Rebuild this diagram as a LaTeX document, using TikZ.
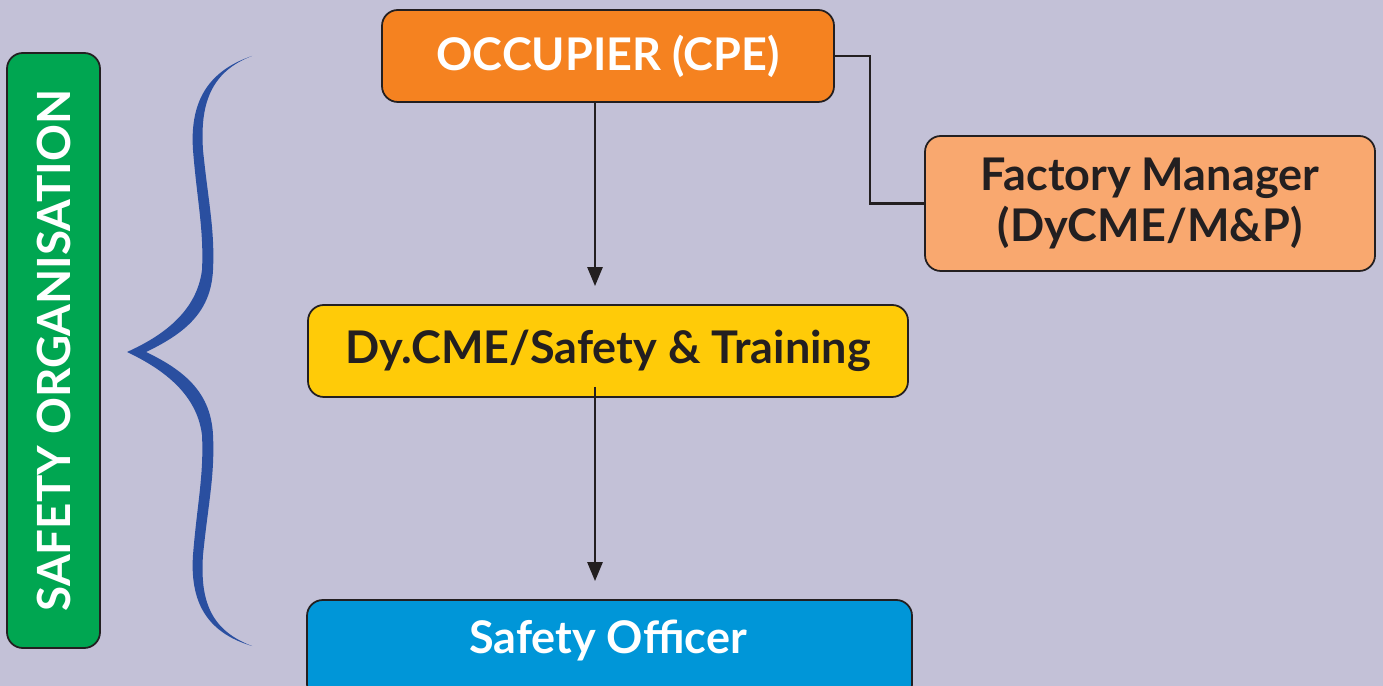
\documentclass[tikz,border=0pt]{standalone}
\usepackage{fontspec}
\setmainfont{Lato}
\usetikzlibrary{arrows.meta}
\definecolor{bgcol}{RGB}{195,193,215}
\definecolor{greencol}{RGB}{0,166,81}
\definecolor{occcol}{RGB}{245,130,32}
\definecolor{mgrcol}{RGB}{249,168,111}
\definecolor{yelcol}{RGB}{255,203,8}
\definecolor{bluecol}{RGB}{0,150,216}
\definecolor{bracecol}{RGB}{42,79,160}
\definecolor{inkcol}{RGB}{35,31,32}
\begin{document}
\begin{tikzpicture}[x=0.01cm,y=-0.01cm,
    box/.style={draw=inkcol, line width=0.5pt, rounded corners=4.5pt, inner sep=0pt, align=center,
      font=\bfseries\fontsize{12.8}{14.5}\selectfont},
    arr/.style={draw=inkcol, line width=0.75pt, -{Triangle[length=0.19cm,width=0.15cm]}},
    link/.style={draw=inkcol, line width=0.75pt}]
  \fill[bgcol] (0,0) rectangle (1383,686);
  \useasboundingbox (0,0) rectangle (1383,686);
  \clip (0,0) rectangle (1383,686);

  \node[box, fill=greencol, text=white, minimum width=93*0.01cm, minimum height=595*0.01cm] (org) at (53.5,350.5) {};
  \node[text=white, rotate=90, font=\bfseries\fontsize{13}{14.5}\selectfont] (orgtxt) at (org.center) {SAFETY ORGANISATION};

  \fill[bracecol] (252,56) .. controls (205,72) and (190,105) .. (193,150)
    .. controls (197,200) and (204,230) .. (202,270)
    .. controls (197,310) and (165,335) .. (127,352)
    .. controls (165,370) and (197,395) .. (202,435)
    .. controls (204,475) and (197,505) .. (193,555)
    .. controls (190,600) and (205,632) .. (252,646)
    .. controls (210,630) and (200,600) .. (203,555)
    .. controls (208,505) and (215,475) .. (213,435)
    .. controls (211,395) and (188,372) .. (146,352)
    .. controls (188,332) and (211,310) .. (213,270)
    .. controls (215,230) and (208,200) .. (203,150)
    .. controls (200,105) and (210,72) .. (252,56) -- cycle;

  \node[box, fill=occcol, text=white, minimum width=452*0.01cm, minimum height=92*0.01cm] (occ) at (608,56) {OCCUPIER (CPE)};
  \node[box, fill=mgrcol, text=inkcol, minimum width=450*0.01cm, minimum height=135*0.01cm] (mgr) at (1150,203.5) {Factory Manager\\(DyCME/M\&P)};
  \node[box, fill=yelcol, text=inkcol, minimum width=600*0.01cm, minimum height=92*0.01cm] (dycme) at (608,351) {Dy.CME/Safety \& Training};
  \node[box, fill=bluecol, text=white, minimum width=605*0.01cm, minimum height=100*0.01cm] (so) at (609.5,650) {};
  \node[text=white, font=\bfseries\fontsize{12.8}{14.5}\selectfont] (sotxt) at (608,641) {Safety Officer};

  \coordinate (ax) at (595,0);
  \coordinate (jn) at (870,130);
  \draw[arr, shorten >=18*0.01cm] (occ.south -| ax) -- (dycme.north -| ax);
  \draw[arr, shorten <=-11*0.01cm, shorten >=18*0.01cm] (dycme.south -| ax) -- (so.north -| ax);
  \draw[link] (occ.east) -| (jn) |- (mgr.west);
\end{tikzpicture}
\end{document}
